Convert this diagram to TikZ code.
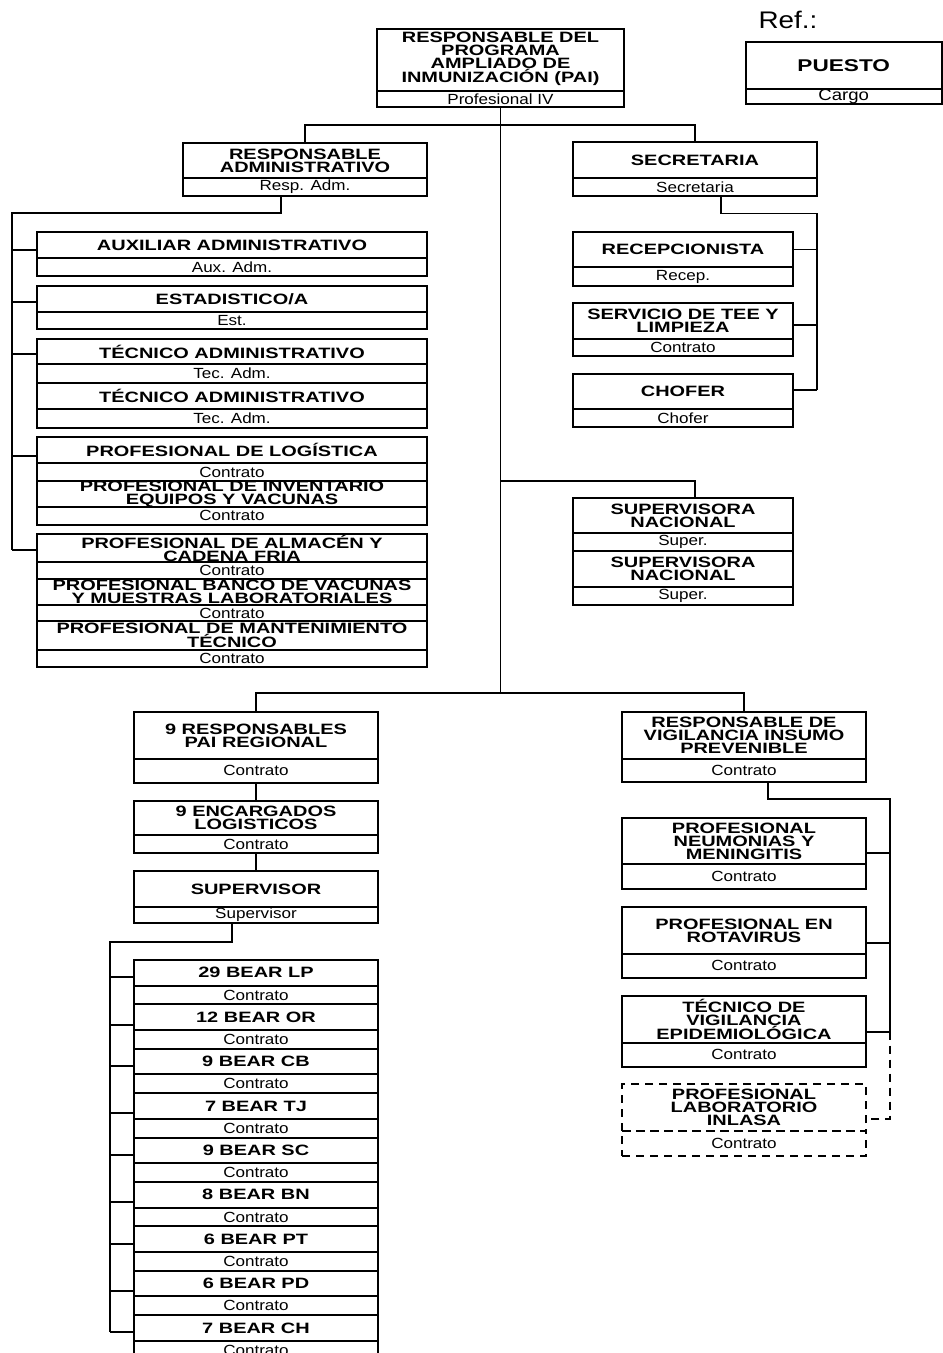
\documentclass[tikz,border=0pt]{standalone}
\usepackage{fontspec}
\newfontfamily\tfont[FakeStretch=1.33]{Liberation Sans}
\newfontfamily\sfont[FakeStretch=1.16]{Liberation Sans}
\usetikzlibrary{calc}
\tikzset{
 ttl/.style={draw,line width=2pt,inner sep=0pt,outer sep=0pt,align=center,font=\tfont\bfseries\fontsize{15}{13}\selectfont},
 subt/.style={draw,line width=2pt,inner sep=0pt,outer sep=0pt,align=center,font=\sfont\fontsize{14.7}{14}\selectfont},
 conn/.style={draw,line width=1.8pt},
 dconn/.style={conn,dash pattern=on 8pt off 6pt},
 dbox/.style={dash pattern=on 8pt off 6pt},
}
% #1 extra style, #2 name, #3 x, #4 width, #5 top, #6 title height, #7 sub height, #8 title, #9 sub
\newcommand\obox[9]{%
 \node[ttl,#1,minimum width=#4pt,minimum height=#6pt,anchor=north west] (#2) at (#3,#5) {#8};
 \node[subt,#1,minimum width=#4pt,minimum height=#7pt,anchor=north] (#2-s) at (#2.south) {#9};}
\begin{document}
\begin{tikzpicture}[x=1pt,y=-1pt]
\useasboundingbox (0,0) rectangle (943,1353);

% top
\obox{}{pai}{377}{247}{29}{62}{16}{RESPONSABLE DEL\\PROGRAMA\\AMPLIADO DE\\INMUNIZACIÓN (PAI)\\[-8pt]}{Profesional IV}
% reference box
\node[font=\sfont\fontsize{24}{24}\selectfont,inner sep=0pt] (reflbl) at (788,20) {Ref.:};
\node[ttl,font=\tfont\bfseries\fontsize{17}{17}\selectfont,minimum width=195.5pt,minimum height=47pt,anchor=north west] (ref) at (746,42) {PUESTO};
\node[subt,font=\sfont\fontsize{16}{16}\selectfont,minimum width=195.5pt,minimum height=15pt,anchor=north] (ref-s) at (ref.south) {Cargo};

% second level
\obox{}{ra}{183}{244}{143}{35}{18}{RESPONSABLE\\ADMINISTRATIVO}{Resp. Adm.}
\obox{}{sec}{573}{244}{142}{36}{18}{SECRETARIA}{Secretaria}

% left column
\obox{}{aux}{37}{390}{232}{26}{18}{AUXILIAR ADMINISTRATIVO}{Aux. Adm.}
\obox{}{est}{37}{390}{286}{25.5}{17.5}{ESTADISTICO/A}{Est.}
\obox{}{tec1}{37}{390}{339}{25}{18.5}{TÉCNICO ADMINISTRATIVO}{Tec. Adm.}
\obox{}{tec2}{37}{390}{382.5}{26.6}{18.4}{TÉCNICO ADMINISTRATIVO}{Tec. Adm.}
\obox{}{log}{37}{390}{436.7}{26.6}{17.4}{PROFESIONAL DE LOGÍSTICA}{Contrato}
\obox{}{inv}{37}{390}{480.7}{26}{17.6}{PROFESIONAL DE INVENTARIO\\EQUIPOS Y VACUNAS}{Contrato}
\obox{}{alm}{37}{390}{534.3}{27.4}{17.3}{PROFESIONAL DE ALMACÉN Y\\CADENA FRIA}{Contrato}
\obox{}{ban}{37}{390}{579}{26}{16}{PROFESIONAL BANCO DE VACUNAS\\Y MUESTRAS LABORATORIALES}{Contrato}
\obox{}{man}{37}{390}{621}{29}{17}{PROFESIONAL DE MANTENIMIENTO\\TÉCNICO}{Contrato}

% right column
\obox{}{rec}{573}{220}{232}{35}{19}{RECEPCIONISTA}{Recep.}
\obox{}{srv}{573}{220}{303}{36}{17}{SERVICIO DE TEE Y\\LIMPIEZA}{Contrato}
\obox{}{cho}{573}{220}{374}{35}{18}{CHOFER}{Chofer}
\obox{}{sn1}{573}{220}{498}{35}{18}{SUPERVISORA\\NACIONAL}{Super.}
\obox{}{sn2}{573}{220}{551}{36}{18}{SUPERVISORA\\NACIONAL}{Super.}

% lower left
\obox{}{rpr}{134}{244}{711.7}{47.3}{23.7}{9 RESPONSABLES\\PAI REGIONAL}{Contrato}
\obox{}{enc}{134}{244}{801}{34}{18}{9 ENCARGADOS\\LOGISTICOS}{Contrato}
\obox{}{sup}{134}{244}{871}{36}{16}{SUPERVISOR}{Supervisor}
\obox{}{b0}{134}{244}{960}{25.5}{18.9}{29 BEAR LP}{Contrato}
\obox{}{b1}{134}{244}{1004.4}{25.5}{18.9}{12 BEAR OR}{Contrato}
\obox{}{b2}{134}{244}{1048.8}{25.5}{18.9}{9 BEAR CB}{Contrato}
\obox{}{b3}{134}{244}{1093.2}{25.5}{18.9}{7 BEAR TJ}{Contrato}
\obox{}{b4}{134}{244}{1137.6}{25.5}{18.9}{9 BEAR SC}{Contrato}
\obox{}{b5}{134}{244}{1182}{25.5}{18.9}{8 BEAR BN}{Contrato}
\obox{}{b6}{134}{244}{1226.4}{25.5}{18.9}{6 BEAR PT}{Contrato}
\obox{}{b7}{134}{244}{1270.8}{25.5}{18.9}{6 BEAR PD}{Contrato}
\obox{}{b8}{134}{244}{1315.2}{25.5}{18.9}{7 BEAR CH}{Contrato}

% lower right
\obox{}{rvi}{622}{244}{711.7}{47.3}{23}{RESPONSABLE DE\\VIGILANCIA INSUMO\\PREVENIBLE}{Contrato}
\obox{}{neu}{622}{244}{817.7}{46.3}{25.3}{PROFESIONAL\\NEUMONIAS Y\\MENINGITIS}{Contrato}
\obox{}{rot}{622}{244}{906.7}{47.3}{23.7}{PROFESIONAL EN\\ROTAVIRUS}{Contrato}
\obox{}{tev}{622}{244}{995.7}{47}{24}{TÉCNICO DE\\VIGILANCIA\\EPIDEMIOLÓGICA}{Contrato}
\obox{dbox}{lab}{622}{244}{1084}{47}{24.7}{PROFESIONAL\\LABORATORIO\\INLASA}{Contrato}

% connectors
\coordinate (jt) at (500.5,125);
\coordinate (js) at (500.5,481);
\coordinate (jb) at (500.5,693);
\draw[conn] (pai-s.south) -- (jb);
\draw[conn] (ra.north) |- (jt) -| (sec.north);

\coordinate (lbT) at (12,213);
\coordinate (lbB) at (12,550);
\draw[conn] ([xshift=-24pt]ra-s.south) |- (lbT) -- (lbB);
\draw[conn] (lbT |- 0,250) -- (aux.west |- 0,250);
\draw[conn] (lbT |- 0,302) -- (est.west |- 0,302);
\draw[conn] (lbT |- 0,354) -- (tec1.west |- 0,354);
\draw[conn] (lbT |- 0,456) -- (log.west |- 0,456);
\draw[conn] (lbB) -- (alm.west |- lbB);

\coordinate (rbT) at (817,213.5);
\coordinate (rbB) at (817,390);
\draw[conn] ([xshift=26pt]sec-s.south) |- (rbT) -- (rbB);
\draw[conn] (rec.east) -- (rec.east -| rbT);
\draw[conn] (srv.east |- 0,325) -- (rbT |- 0,325);
\draw[conn] (cho.east |- rbB) -- (rbB);

\draw[conn] (js) -| ([xshift=12pt]sn1.north);

\draw[conn] (rpr.north) |- (jb) -| (rvi.north);
\draw[conn] (rpr-s.south) -- (enc.north);
\draw[conn] (enc-s.south) -- (sup.north);

\coordinate (bbT) at (110,942);
\coordinate (bbB) at (110,1332);
\draw[conn] ([xshift=-24pt]sup-s.south) |- (bbT) -- (bbB);
\draw[conn] (bbT |- 0,977) -- (b0.west |- 0,977);
\draw[conn] (bbT |- 0,1025) -- (b1.west |- 0,1025);
\draw[conn] (bbT |- 0,1066) -- (b2.west |- 0,1066);
\draw[conn] (bbT |- 0,1113) -- (b3.west |- 0,1113);
\draw[conn] (bbT |- 0,1155) -- (b4.west |- 0,1155);
\draw[conn] (bbT |- 0,1202) -- (b5.west |- 0,1202);
\draw[conn] (bbT |- 0,1244) -- (b6.west |- 0,1244);
\draw[conn] (bbT |- 0,1291) -- (b7.west |- 0,1291);
\draw[conn] (bbB) -- (b8.west |- bbB);

\coordinate (vbT) at (890,799.3);
\coordinate (vbM) at (890,1031.7);
\coordinate (vbB) at (890,1119);
\draw[conn] ([xshift=24pt]rvi-s.south) |- (vbT) -- (vbM);
\draw[conn] (neu.east |- 0,853) -- (vbT |- 0,853);
\draw[conn] (rot.east |- 0,943) -- (vbT |- 0,943);
\draw[conn] (tev.east |- vbM) -- (vbM);
\draw[dconn] (vbM) -- (vbB) -- (lab.east |- vbB);
\end{tikzpicture}
\end{document}
